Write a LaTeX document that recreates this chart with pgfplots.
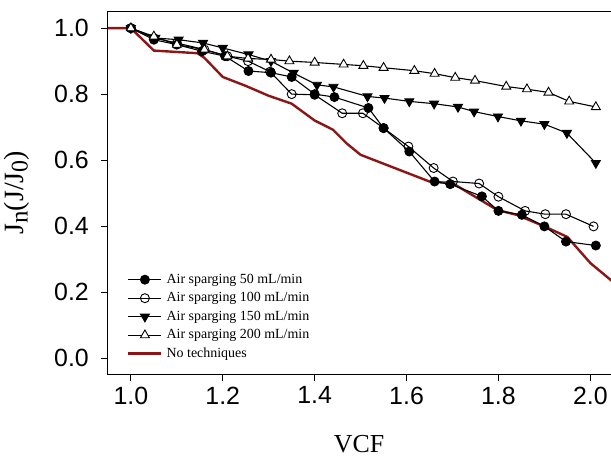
\documentclass[border=0pt]{standalone}
\usepackage{fontspec}
\setmainfont{Liberation Serif}
\setsansfont{Liberation Sans}
\usepackage{pgfplots}
\pgfplotsset{compat=1.18}
\definecolor{darkred}{RGB}{140,22,22}

\pgfplotstableread{
x y
0.95 1.0
1.0 1.0
1.05 0.932
1.145 0.924
1.16 0.91
1.2 0.852
1.25 0.825
1.30 0.795
1.35 0.771
1.40 0.72
1.44 0.692
1.47 0.65
1.50 0.616
1.65 0.535
1.70 0.530
1.797 0.449
1.84 0.434
1.90 0.399
1.95 0.367
2.0 0.288
2.05 0.23
}\nonetech

\pgfplotstableread{
x y
1.0 1.0
1.05 0.965
1.10 0.95
1.155 0.93
1.205 0.915
1.256 0.87
1.305 0.865
1.35 0.852
1.40 0.80
1.443 0.791
1.517 0.758
1.55 0.697
1.606 0.626
1.661 0.535
1.695 0.527
1.764 0.49
1.80 0.446
1.851 0.434
1.90 0.399
1.947 0.353
2.012 0.341
}\airA

\pgfplotstableread{
x y
1.0 1.0
1.05 0.97
1.10 0.955
1.16 0.935
1.21 0.915
1.255 0.90
1.303 0.868
1.35 0.80
1.40 0.798
1.46 0.742
1.505 0.742
1.55 0.697
1.604 0.641
1.659 0.576
1.701 0.535
1.758 0.529
1.80 0.489
1.858 0.446
1.902 0.436
1.947 0.436
2.007 0.399
}\airB

\pgfplotstableread{
x y
1.0 1.0
1.053 0.97
1.104 0.965
1.157 0.955
1.20 0.94
1.256 0.92
1.305 0.90
1.354 0.864
1.405 0.828
1.441 0.822
1.515 0.793
1.552 0.788
1.606 0.778
1.66 0.771
1.712 0.761
1.747 0.747
1.799 0.732
1.849 0.719
1.90 0.709
1.949 0.682
2.012 0.591
}\airC

\pgfplotstableread{
x y
1.0 1.0
1.05 0.975
1.10 0.95
1.16 0.935
1.21 0.915
1.255 0.908
1.305 0.905
1.345 0.90
1.40 0.896
1.463 0.890
1.506 0.886
1.55 0.880
1.617 0.871
1.661 0.862
1.706 0.850
1.749 0.841
1.817 0.823
1.862 0.815
1.909 0.805
1.954 0.778
2.012 0.761
}\airD

\begin{document}
\begin{tikzpicture}
\begin{axis}[
  scale only axis,
  width=504bp, height=363.5bp,
  xmin=0.948, xmax=2.045,
  ymin=-0.05, ymax=1.052,
  axis x line*=box, axis y line*=left,
  y axis line style={-},
  x axis line style={-},
  axis line style={line width=0.9bp},
  xtick={1.0,1.2,1.4,1.6,1.8,2.0},
  ytick={0,0.2,0.4,0.6,0.8,1.0},
  xtick pos=bottom, ytick pos=left,
  tick align=outside,
  major tick length=6bp,
  tick style={line width=0.9bp, black},
  minor tick num=0,
  /pgf/number format/assume math mode=true,
  /pgf/number format/.cd, fixed, fixed zerofill, precision=1,
  /pgfplots/.cd,
  tick label style={font=\sffamily\fontsize{25}{25}\selectfont},
  xticklabel style={inner sep=0pt, anchor=north, yshift=-6bp},
  yticklabel style={inner sep=0pt, anchor=east, xshift=-12bp},
  xlabel={VCF},
  ylabel={J\raisebox{-0.3ex}{\fontsize{25}{25}\selectfont n}(J/J\raisebox{-0.3ex}{\fontsize{24}{24}\selectfont 0})},
  every axis x label/.style={at={(rel axis cs:0.5,0)}, anchor=base, yshift=-77.5bp, font=\fontsize{26}{26}\selectfont, inner sep=0pt},
  every axis y label/.style={at={(rel axis cs:-0.1786,0.5)}, rotate=90, anchor=center, font=\fontsize{28}{28}\selectfont, inner sep=0pt},
  legend style={at={(rel axis cs:0.0397,0.282)}, anchor=north west, draw=none, fill=none,
    inner sep=0pt, row sep=3.5bp,
    font=\fontsize{14}{14}\selectfont,
    nodes={inner sep=1bp, text height=10bp, text depth=3bp}},
  legend cell align=left,
  legend image code/.code={\draw[mark repeat=2,mark phase=2,#1] plot coordinates {(0bp,0bp) (16.5bp,0bp) (33bp,0bp)};\path (36bp,0bp);},
]
\coordinate (SW) at (rel axis cs:0,0);
\coordinate (NE) at (rel axis cs:1,1);
\addplot[darkred, line width=2.4bp, no markers, forget plot] table {\nonetech};
\addplot[black, line width=1.1bp, mark=*, mark size=4.5bp, mark options={solid, fill=black, line width=0.9bp}] table {\airA};
\addlegendentry{Air sparging 50 mL/min}
\addplot[black, line width=1.1bp, mark=o, mark size=4.5bp, mark options={solid, fill=white, line width=0.9bp}] table {\airB};
\addlegendentry{Air sparging 100 mL/min}
\addplot[black, line width=1.1bp, mark=triangle*, mark size=5.2bp, mark options={solid, fill=black, rotate=180, line width=0.9bp}] table {\airC};
\addlegendentry{Air sparging 150 mL/min}
\addplot[black, line width=1.1bp, mark=triangle*, mark size=5.2bp, mark options={solid, fill=white, line width=0.9bp}] table {\airD};
\addlegendentry{Air sparging 200 mL/min}
\addlegendimage{darkred, line width=2.4bp, no markers}
\addlegendentry{No techniques}
\end{axis}
\pgfresetboundingbox
\path[use as bounding box] ([xshift=-107bp,yshift=-86.5bp]SW) rectangle ([yshift=11bp]NE);
\end{tikzpicture}
\end{document}
